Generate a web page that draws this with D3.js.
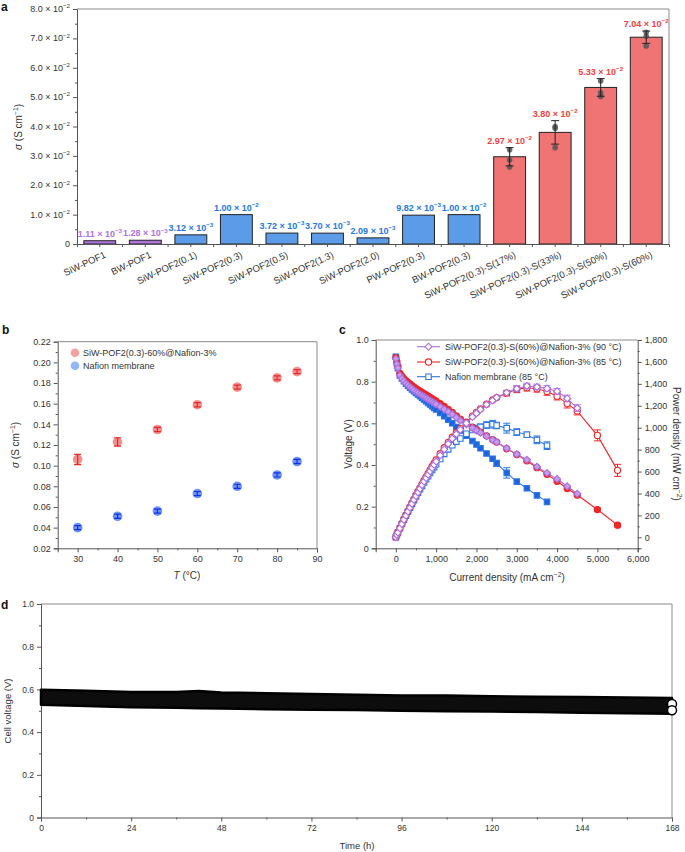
<!DOCTYPE html>
<html>
<head>
<meta charset="utf-8">
<script src="https://cdn.jsdelivr.net/npm/d3@7"></script>
<style>
  body { margin: 0; background: #fff; }
  text { font-family: "Liberation Sans", Arial, sans-serif; }
</style>
</head>
<body>
<svg id="fig" width="685" height="852"></svg>
<script>
// ---------- panel a data ----------
const aCats = ["SiW-POF1", "BW-POF1", "SiW-POF2(0.1)", "SiW-POF2(0.3)", "SiW-POF2(0.5)", "SiW-POF2(1.3)",
  "SiW-POF2(2.0)", "PW-POF2(0.3)", "BW-POF2(0.3)", "SiW-POF2(0.3)-S(17%)", "SiW-POF2(0.3)-S(33%)",
  "SiW-POF2(0.3)-S(50%)", "SiW-POF2(0.3)-S(60%)"];
const aValues = [0.00111, 0.00128, 0.00312, 0.0100, 0.00372, 0.00370, 0.00209, 0.00982, 0.0100, 0.0297, 0.0380, 0.0533, 0.0704];
const aGroup = ["p", "p", "b", "b", "b", "b", "b", "b", "b", "r", "r", "r", "r"];
const aMant = ["1.11", "1.28", "3.12", "1.00", "3.72", "3.70", "2.09", "9.82", "1.00", "2.97", "3.80", "5.33", "7.04"];
const aExp = ["−3", "−3", "−3", "−2", "−3", "−3", "−3", "−3", "−2", "−2", "−2", "−2", "−2"];
const aErr = [0, 0, 0, 0, 0, 0, 0, 0, 0, 0.0031, 0.0040, 0.0030, 0.0021];
const aReps = [[], [], [], [], [], [], [], [], [],
  [0.0321, 0.0286, 0.0262], [0.0400, 0.0394, 0.0328], [0.0555, 0.0515, 0.0502], [0.0721, 0.0707, 0.0674]];
const aTicks = [0, 0.01, 0.02, 0.03, 0.04, 0.05, 0.06, 0.07, 0.08];

// ---------- panel b data ----------
const bTemp = [30, 40, 50, 60, 70, 80, 85];
const bComposite = [0.106, 0.123, 0.135, 0.159, 0.176, 0.185, 0.191];
const bCompositeErr = [0.005, 0.004, 0.002, 0.002, 0.002, 0.002, 0.002];
const bNafion = [0.040, 0.051, 0.056, 0.073, 0.080, 0.091, 0.104];
const bNafionErr = [0.002, 0.002, 0.002, 0.002, 0.002, 0.002, 0.002];

// ---------- panel c data ----------
const cI90 = [0, 25, 50, 100, 150, 200, 250, 300, 350, 400, 450, 500, 550, 600, 650, 700, 750, 800, 850, 900, 950, 1000,
  1100, 1200, 1300, 1400, 1500, 1600, 1750, 1900, 2000, 2100, 2250, 2400, 2500, 2750, 3000, 3250, 3500, 3750, 4000, 4250, 4500];
const cV90 = [0.910, 0.885, 0.865, 0.830, 0.815, 0.802, 0.792, 0.783, 0.775, 0.767, 0.759, 0.752, 0.745, 0.739, 0.733, 0.727,
  0.721, 0.715, 0.709, 0.703, 0.697, 0.691, 0.680, 0.668, 0.656, 0.643, 0.628, 0.613, 0.595, 0.578, 0.566, 0.555, 0.538, 0.520,
  0.510, 0.480, 0.452, 0.425, 0.392, 0.362, 0.333, 0.298, 0.262];
const cP90 = [0, 22, 43, 83, 122, 160, 198, 235, 271, 307, 342, 376, 410, 443, 476, 509, 541, 572, 603, 633, 662, 691,
  748, 802, 853, 900, 942, 981, 1041, 1098, 1132, 1166, 1211, 1248, 1275, 1320, 1356, 1381, 1372, 1358, 1332, 1267, 1179];
const cI85 = [0, 25, 50, 100, 150, 200, 250, 300, 350, 400, 450, 500, 550, 600, 650, 700, 750, 800, 850, 900, 950, 1000,
  1100, 1200, 1300, 1400, 1500, 1600, 1750, 1900, 2000, 2100, 2250, 2400, 2500, 2750, 3000, 3250, 3500, 3750, 4000, 4250, 4500, 5000, 5500];
const cV85 = [0.915, 0.895, 0.875, 0.840, 0.826, 0.815, 0.805, 0.797, 0.789, 0.781, 0.774, 0.767, 0.760, 0.754, 0.748, 0.742,
  0.736, 0.730, 0.724, 0.718, 0.712, 0.706, 0.694, 0.681, 0.667, 0.652, 0.636, 0.620, 0.600, 0.582, 0.570, 0.558, 0.540, 0.522,
  0.510, 0.478, 0.450, 0.420, 0.387, 0.355, 0.322, 0.287, 0.256, 0.186, 0.111];
const cP85 = [0, 22, 44, 84, 124, 163, 201, 239, 276, 312, 348, 384, 418, 452, 486, 519, 552, 584, 615, 646, 676, 706,
  763, 817, 867, 913, 954, 992, 1050, 1106, 1140, 1172, 1215, 1253, 1275, 1315, 1350, 1365, 1355, 1331, 1288, 1220, 1152, 930, 611];
const cINaf = [0, 25, 50, 100, 150, 200, 250, 300, 350, 400, 450, 500, 550, 600, 650, 700, 750, 800, 850, 900, 950, 1000,
  1100, 1200, 1300, 1400, 1500, 1600, 1750, 1900, 2000, 2100, 2250, 2400, 2500, 2750, 3000, 3250, 3500, 3750];
const cVNaf = [0.920, 0.890, 0.865, 0.830, 0.815, 0.802, 0.790, 0.780, 0.771, 0.762, 0.754, 0.746, 0.738, 0.730, 0.722, 0.714,
  0.706, 0.698, 0.690, 0.682, 0.674, 0.666, 0.650, 0.634, 0.617, 0.600, 0.582, 0.564, 0.540, 0.515, 0.498, 0.480, 0.455, 0.430,
  0.408, 0.362, 0.320, 0.288, 0.254, 0.223];
const cPNaf = [0, 22, 43, 83, 122, 160, 198, 234, 270, 305, 339, 373, 406, 438, 469, 500, 530, 558, 587, 614, 640, 666,
  715, 761, 802, 840, 873, 902, 945, 979, 996, 1008, 1024, 1032, 1020, 996, 960, 936, 889, 836];
// error bars (current, error)
const cErrI90 = [3000, 3250, 3500, 3750, 4000, 4250, 4500];
const cErrP90 = [25, 25, 25, 25, 25, 30, 30];
const cErrI85 = [2750, 3000, 3250, 3500, 3750, 4000, 4250, 4500, 5000, 5500];
const cErrP85 = [25, 30, 30, 30, 35, 35, 40, 35, 50, 55];
const cErrINaf = [2100, 2250, 2400, 2500, 2750, 3000, 3250, 3500, 3750];
const cErrPNaf = [25, 30, 35, 30, 45, 30, 25, 35, 35];
const cErrVINaf = [2500, 2750];
const cErrVNaf = [0.015, 0.025];

// ---------- panel d data (envelope of the dense marker band) ----------
const dTime = [0, 12, 24, 36, 42, 48, 60, 72, 84, 96, 108, 120, 132, 144, 156, 168];
const dUpper = [0.598, 0.594, 0.588, 0.588, 0.593, 0.585, 0.582, 0.578, 0.575, 0.572, 0.571, 0.568, 0.566, 0.564, 0.562, 0.560];
const dLower = [0.528, 0.522, 0.516, 0.514, 0.512, 0.510, 0.507, 0.505, 0.503, 0.500, 0.498, 0.496, 0.494, 0.491, 0.488, 0.486];
const dEndT = [168, 168];
const dEndV = [0.532, 0.502];

// ---------- helpers ----------
const svg = d3.select("#fig");
const AX = "#555", FR = "#8a8a8a", TXT = "#333";

function rich(t, parts) {
  let up = false;
  parts.forEach(([s, k]) => {
    const sp = t.append("tspan").text(s);
    if (k === "s") {
      sp.attr("font-size", "0.68em").attr("dy", up ? 0 : "-0.6em");
      up = true;
    } else {
      if (up) sp.attr("dy", "0.41em");
      up = false;
      if (k === "i") sp.attr("font-style", "italic");
    }
  });
  return t;
}

function styleAxis(g, fs) {
  g.attr("font-family", null).attr("font-size", null);
  g.select(".domain").attr("stroke", AX);
  g.selectAll(".tick line").attr("stroke", AX);
  g.selectAll(".tick text").attr("fill", TXT).attr("font-size", fs || 9);
  return g;
}

function minor(axisFn, scale, vals, tr, size) {
  svg.append("g").attr("transform", tr)
    .call(axisFn(scale).tickValues(vals).tickSize(size || 2).tickFormat(""))
    .call(g => { g.select(".domain").remove(); g.selectAll("line").attr("stroke", AX); });
}

function frame(x0, x1, y0, y1) {
  svg.append("path").attr("d", `M${x0},${y0}H${x1}V${y1}`).attr("fill", "none").attr("stroke", FR);
}

function letter(s, x, y) {
  svg.append("text").attr("x", x).attr("y", y).attr("font-weight", "bold").attr("font-size", 12).attr("fill", "#111").text(s);
}

// ================= PANEL a =================
const ax = d3.scaleBand().domain(aCats).range([77, 669]).paddingInner(0.3).paddingOuter(0.15);
const ay = d3.scaleLinear().domain([0, 0.08]).range([244, 9]);
const fillC = { p: "#ae74dc", b: "#5b9be8", r: "#f07474" };
const labC = { p: "#b070e6", b: "#2379e2", r: "#f03e3e" };

frame(77, 669, 9, 244);

svg.append("g").selectAll("rect").data(aCats).join("rect")
  .attr("x", d => ax(d)).attr("width", ax.bandwidth())
  .attr("y", (d, i) => ay(aValues[i])).attr("height", (d, i) => ay(0) - ay(aValues[i]))
  .attr("fill", (d, i) => fillC[aGroup[i]]).attr("stroke", "#222").attr("stroke-width", 1);

// error bars + replicate dots
aCats.forEach((c, i) => {
  if (!aErr[i]) return;
  const cx = ax(c) + ax.bandwidth() / 2;
  const g = svg.append("g");
  aReps[i].forEach(v => g.append("circle").attr("cx", cx).attr("cy", ay(v)).attr("r", 2.8)
    .attr("fill", "#555").attr("fill-opacity", 0.85));
  g.append("path")
    .attr("d", `M${cx},${ay(aValues[i] - aErr[i])}V${ay(aValues[i] + aErr[i])}` +
      `M${cx - 4},${ay(aValues[i] + aErr[i])}h8M${cx - 4},${ay(aValues[i] - aErr[i])}h8`)
    .attr("stroke", "#222").attr("stroke-width", 1).attr("fill", "none");
});

// value labels
aCats.forEach((c, i) => {
  const top = Math.max(aValues[i] + aErr[i], ...aReps[i], aValues[i]);
  const t = svg.append("text").attr("x", ax(c) + ax.bandwidth() / 2).attr("y", ay(top) - 4)
    .attr("text-anchor", "middle").attr("font-size", 9).attr("font-weight", "bold").attr("fill", labC[aGroup[i]]);
  rich(t, [[aMant[i] + " × 10", "n"], [aExp[i], "s"]]);
});

// axes
svg.append("g").attr("transform", "translate(77,0)")
  .call(d3.axisLeft(ay).tickValues(aTicks).tickSize(4).tickFormat(""))
  .call(g => styleAxis(g));
minor(d3.axisLeft, ay, d3.range(0.005, 0.08, 0.01), "translate(77,0)");
aTicks.forEach(v => {
  const t = svg.append("text").attr("x", 70).attr("y", ay(v) + 3).attr("text-anchor", "end")
    .attr("font-size", 9).attr("fill", TXT);
  if (v === 0) t.text("0");
  else rich(t, [[(v * 100).toFixed(1) + " × 10", "n"], ["−2", "s"]]);
});
svg.append("g").attr("transform", "translate(0,244)")
  .call(d3.axisBottom(ax).tickSize(3).tickFormat(""))
  .call(g => styleAxis(g));
const aBounds = aCats.slice(1).map(c => ax(c) - ax.step() * 0.15);
svg.append("g").selectAll("line").data(aBounds).join("line")
  .attr("x1", d => d).attr("x2", d => d).attr("y1", 244).attr("y2", 247).attr("stroke", AX);
svg.append("g").selectAll("text").data(aCats).join("text")
  .attr("transform", d => `translate(${ax(d) + ax.bandwidth() / 2 + 4},251) rotate(-25)`)
  .attr("dy", "0.7em").attr("text-anchor", "end").attr("font-size", 9.5).attr("fill", TXT).text(d => d);

rich(svg.append("text").attr("transform", "translate(22,127) rotate(-90)").attr("text-anchor", "middle")
  .attr("font-size", 10).attr("fill", TXT), [["σ", "i"], [" (S cm", "n"], ["−1", "s"], [")", "n"]]);
letter("a", 1, 11);

// ================= PANEL b =================
const bx = d3.scaleLinear().domain([25, 90]).range([57.7, 317]);
const by = d3.scaleLinear().domain([0.02, 0.22]).range([548.3, 341.7]);
frame(57.7, 317, 341.7, 548.3);
svg.append("g").attr("transform", "translate(57.7,0)")
  .call(d3.axisLeft(by).tickValues(d3.range(0.02, 0.2201, 0.02)).tickSize(4).tickFormat(d3.format(".2f")))
  .call(g => styleAxis(g));
minor(d3.axisLeft, by, d3.range(0.03, 0.22, 0.02), "translate(57.7,0)");
svg.append("g").attr("transform", "translate(0,548.3)")
  .call(d3.axisBottom(bx).tickValues(d3.range(30, 91, 10)).tickSize(4))
  .call(g => styleAxis(g));
minor(d3.axisBottom, bx, d3.range(25, 90, 10), "translate(0,548.3)");

function bSeries(vals, errs, fill, line) {
  const g = svg.append("g");
  bTemp.forEach((t, i) => {
    g.append("circle").attr("cx", bx(t)).attr("cy", by(vals[i])).attr("r", 4.8).attr("fill", fill).attr("fill-opacity", 0.75);
    const x = bx(t), y1 = by(vals[i] + errs[i]), y0 = by(vals[i] - errs[i]);
    g.append("path").attr("d", `M${x},${y0}V${y1}M${x - 3.5},${y1}h7M${x - 3.5},${y0}h7`)
      .attr("stroke", line).attr("stroke-width", 1.2).attr("fill", "none");
  });
}
bSeries(bComposite, bCompositeErr, "#f06a6a", "#e82828");
bSeries(bNafion, bNafionErr, "#3f6ff0", "#1030e8");

[["SiW-POF2(0.3)-60%@Nafion-3%", "#f4a2a2", 352.7], ["Nafion membrane", "#8fb8f5", 365.7]].forEach(([s, c, y]) => {
  svg.append("circle").attr("cx", 75).attr("cy", y).attr("r", 4.3).attr("fill", c);
  svg.append("text").attr("x", 83).attr("y", y + 3.3).attr("font-size", 9).attr("fill", TXT).text(s);
});
rich(svg.append("text").attr("transform", "translate(19,445) rotate(-90)").attr("text-anchor", "middle")
  .attr("font-size", 10).attr("fill", TXT), [["σ", "i"], [" (S cm", "n"], ["−1", "s"], [")", "n"]]);
rich(svg.append("text").attr("x", 187).attr("y", 579).attr("text-anchor", "middle")
  .attr("font-size", 10).attr("fill", TXT), [["T", "i"], [" (°C)", "n"]]);
letter("b", 2, 334);

// ================= PANEL c =================
const cx = d3.scaleLinear().domain([-500, 6000]).range([375.7, 637.7]);
const cyL = d3.scaleLinear().domain([0, 1.0]).range([548.3, 340]);
const cyR = d3.scaleLinear().domain([-100, 1800]).range([548.3, 340]);
frame(375.7, 637.7, 340, 340);
svg.append("g").attr("transform", "translate(375.7,0)")
  .call(d3.axisLeft(cyL).tickValues([0, 0.2, 0.4, 0.6, 0.8, 1.0]).tickSize(4).tickFormat(d => d === 0 ? "0" : d3.format(".1f")(d)))
  .call(g => styleAxis(g));
minor(d3.axisLeft, cyL, [0.1, 0.3, 0.5, 0.7, 0.9], "translate(375.7,0)");
svg.append("g").attr("transform", "translate(637.7,0)")
  .call(d3.axisRight(cyR).tickValues(d3.range(0, 1801, 200)).tickSize(4).tickFormat(d3.format(",")))
  .call(g => styleAxis(g));
minor(d3.axisRight, cyR, d3.range(-100, 1800, 200), "translate(637.7,0)");
svg.append("g").attr("transform", "translate(0,548.3)")
  .call(d3.axisBottom(cx).tickValues(d3.range(0, 6001, 1000)).tickSize(4).tickFormat(d3.format(",")))
  .call(g => styleAxis(g));
minor(d3.axisBottom, cx, d3.range(-500, 6000, 1000), "translate(0,548.3)");

const sq = d3.symbol(d3.symbolSquare, 30)();
const dia = d3.symbol(d3.symbolSquare, 24)();
const cSeries = [
  { I: cINaf, V: cVNaf, P: cPNaf, col: "#2a78e4", vfill: "#1f63dc", shape: "sq",
    eI: cErrINaf, eP: cErrPNaf, evI: cErrVINaf, eV: cErrVNaf },
  { I: cI85, V: cV85, P: cP85, col: "#f02424", vfill: "#f02828", shape: "ci",
    eI: cErrI85, eP: cErrP85, evI: [5000, 5500], eV: [0.008, 0.008] },
  { I: cI90, V: cV90, P: cP90, col: "#a86ee0", vfill: "#c39ded", shape: "di",
    eI: cErrI90, eP: cErrP90, evI: [], eV: [] }
];
function marker(g, s, x, y, fill) {
  if (s.shape === "ci") g.append("circle").attr("cx", x).attr("cy", y).attr("r", 3.1)
    .attr("fill", fill).attr("stroke", s.col).attr("stroke-width", 1.1);
  else g.append("path").attr("d", s.shape === "sq" ? sq : dia)
    .attr("transform", `translate(${x},${y})${s.shape === "di" ? " rotate(45)" : ""}`)
    .attr("fill", fill).attr("stroke", s.col).attr("stroke-width", 1.1);
}
cSeries.forEach(s => {
  const g = svg.append("g");
  const lineV = d3.line().x((d, i) => cx(s.I[i])).y(d => cyL(d));
  const lineP = d3.line().x((d, i) => cx(s.I[i])).y(d => cyR(d));
  g.append("path").attr("d", lineV(s.V)).attr("fill", "none").attr("stroke", s.col).attr("stroke-width", 1.1);
  g.append("path").attr("d", lineP(s.P)).attr("fill", "none").attr("stroke", s.col).attr("stroke-width", 1.1);
  s.eI.forEach((ii, k) => {
    const j = s.I.indexOf(ii), x = cx(ii);
    const y1 = cyR(s.P[j] + s.eP[k]), y0 = cyR(s.P[j] - s.eP[k]);
    g.append("path").attr("d", `M${x},${y0}V${y1}M${x - 3.5},${y1}h7M${x - 3.5},${y0}h7`)
      .attr("stroke", s.col).attr("stroke-width", 1).attr("fill", "none");
  });
  s.evI.forEach((ii, k) => {
    const j = s.I.indexOf(ii), x = cx(ii);
    const y1 = cyL(s.V[j] + s.eV[k]), y0 = cyL(s.V[j] - s.eV[k]);
    g.append("path").attr("d", `M${x},${y0}V${y1}M${x - 3.5},${y1}h7M${x - 3.5},${y0}h7`)
      .attr("stroke", s.col).attr("stroke-width", 1).attr("fill", "none");
  });
  s.V.forEach((v, i) => marker(g, s, cx(s.I[i]), cyL(v), s.vfill));
  s.P.forEach((p, i) => marker(g, s, cx(s.I[i]), cyR(p), "#fff"));
});

const cLeg = [
  ["SiW-POF2(0.3)-S(60%)@Nafion-3% (90 °C)", cSeries[2], 346.7],
  ["SiW-POF2(0.3)-S(60%)@Nafion-3% (85 °C)", cSeries[1], 362],
  ["Nafion membrane (85 °C)", cSeries[0], 376.7]
];
cLeg.forEach(([s, ser, y]) => {
  const g = svg.append("g");
  g.append("line").attr("x1", 417).attr("x2", 440).attr("y1", y).attr("y2", y).attr("stroke", ser.col).attr("stroke-width", 1.1);
  marker(g, ser, 428.5, y, "#fff");
  svg.append("text").attr("x", 445).attr("y", y + 3.3).attr("font-size", 9).attr("fill", TXT).text(s);
});
svg.append("text").attr("transform", "translate(352,444) rotate(-90)").attr("text-anchor", "middle")
  .attr("font-size", 10).attr("fill", TXT).text("Voltage (V)");
rich(svg.append("text").attr("transform", "translate(673,444) rotate(90)").attr("text-anchor", "middle")
  .attr("font-size", 10).attr("fill", TXT), [["Power density (mW cm", "n"], ["−2", "s"], [")", "n"]]);
rich(svg.append("text").attr("x", 507).attr("y", 581).attr("text-anchor", "middle")
  .attr("font-size", 10).attr("fill", TXT), [["Current density (mA cm", "n"], ["−2", "s"], [")", "n"]]);
letter("c", 339, 334);

// ================= PANEL d =================
const dx = d3.scaleLinear().domain([0, 168]).range([41, 672]);
const dy = d3.scaleLinear().domain([0, 1.0]).range([817.5, 604]);
frame(41, 672, 604, 817.5);
svg.append("g").attr("transform", "translate(41,0)")
  .call(d3.axisLeft(dy).tickValues([0, 0.2, 0.4, 0.6, 0.8, 1.0]).tickSize(4).tickFormat(d => d === 0 ? "0" : d3.format(".1f")(d)))
  .call(g => styleAxis(g, 8.5));
minor(d3.axisLeft, dy, [0.1, 0.3, 0.5, 0.7, 0.9], "translate(41,0)");
svg.append("g").attr("transform", "translate(0,817.5)")
  .call(d3.axisBottom(dx).tickValues(d3.range(0, 169, 24)).tickSize(4))
  .call(g => styleAxis(g, 8.5));
minor(d3.axisBottom, dx, d3.range(12, 168, 24), "translate(0,817.5)");

const band = d3.area().x((d, i) => dx(dTime[i])).y0((d, i) => dy(dLower[i])).y1(d => dy(d));
svg.append("path").attr("d", band(dUpper)).attr("fill", "#0d0d0d").attr("stroke", "#000").attr("stroke-width", 2.5)
  .attr("stroke-linejoin", "round");
svg.append("g").selectAll("circle").data(dEndV).join("circle")
  .attr("cx", (d, i) => dx(dEndT[i])).attr("cy", d => dy(d)).attr("r", 4.5)
  .attr("fill", "#fff").attr("stroke", "#000").attr("stroke-width", 1.5);

svg.append("text").attr("transform", "translate(11,711) rotate(-90)").attr("text-anchor", "middle")
  .attr("font-size", 9.5).attr("fill", TXT).text("Cell voltage (V)");
svg.append("text").attr("x", 357).attr("y", 849).attr("text-anchor", "middle")
  .attr("font-size", 9.5).attr("fill", TXT).text("Time (h)");
letter("d", 1, 609);
</script>
</body>
</html>
